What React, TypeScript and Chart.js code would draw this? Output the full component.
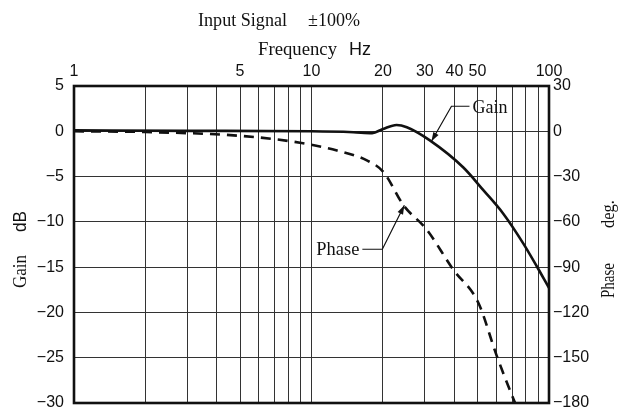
import React, { useEffect, useRef } from "react";
import { Chart, registerables } from "chart.js";
Chart.register(...registerables);

// ---- data ----
const freqGrid = [1, 2, 3, 4, 5, 6, 7, 8, 9, 10, 20, 30, 40, 50, 60, 70, 80, 90, 100];
const freqLabels = [1, 5, 10, 20, 30, 40, 50, 100];

const gainFreq = [1, 3, 10, 15, 18, 20, 22.8, 25.2, 31.5, 43.6, 52.9, 64.2, 78, 88.8, 100];
const gainDb = [0.1, 0.05, 0, -0.1, -0.2, 0.25, 0.7, 0.45, -1.0, -4.0, -6.5, -9.1, -12.4, -14.9, -17.3];

const phaseFreq = [1, 2, 5, 8.95, 12.8, 17.1, 20.1, 24.4, 30.5, 39.5, 50.4, 60.2, 70.7, 72];
const phaseDeg = [0, -0.5, -3, -7.6, -12.7, -19.3, -27, -49, -65, -91.6, -113.6, -148.6, -177, -180];

const gainAnnot = { f: 32, v: -1.1, label: "Gain" };
const phaseAnnot = { f: 24.6, v: -49, label: "Phase" };

const fmt = (v: number) => (v < 0 ? "\u2212" + Math.abs(v) : String(v));

const SERIF = '19px "Liberation Serif"';
const SANS = '18px "Liberation Sans"';

function drawArrow(ctx: CanvasRenderingContext2D, pts: number[][]) {
  ctx.beginPath();
  ctx.moveTo(pts[0][0], pts[0][1]);
  for (let i = 1; i < pts.length; i++) ctx.lineTo(pts[i][0], pts[i][1]);
  ctx.stroke();
  const [x1, y1] = pts[pts.length - 2];
  const [x2, y2] = pts[pts.length - 1];
  const ang = Math.atan2(y2 - y1, x2 - x1);
  const L = 9, W = 3;
  ctx.beginPath();
  ctx.moveTo(x2, y2);
  ctx.lineTo(x2 - L * Math.cos(ang) + W * Math.sin(ang), y2 - L * Math.sin(ang) - W * Math.cos(ang));
  ctx.lineTo(x2 - L * Math.cos(ang) - W * Math.sin(ang), y2 - L * Math.sin(ang) + W * Math.cos(ang));
  ctx.closePath();
  ctx.fill();
}

const overlay = {
  id: "overlay",
  afterDraw(chart: any) {
    const { ctx, chartArea: a, scales } = chart;
    ctx.save();
    ctx.strokeStyle = "#111";
    ctx.fillStyle = "#111";
    ctx.lineWidth = 2.6;
    ctx.strokeRect(a.left, a.top, a.right - a.left, a.bottom - a.top);

    // titles
    ctx.textBaseline = "alphabetic";
    ctx.textAlign = "left";
    ctx.font = SERIF;
    ctx.fillText("Input Signal", 198, 25.5, 89);
    ctx.fillText("\u00b1100%", 308, 25.5, 52);
    ctx.fillText("Frequency", 258, 55, 79);
    ctx.font = SANS;
    ctx.fillText("Hz", 349, 55, 25);

    // left axis title
    ctx.save();
    ctx.translate(26, 0);
    ctx.rotate(-Math.PI / 2);
    ctx.font = SERIF;
    ctx.fillText("Gain", -288, 0, 33);
    ctx.font = SANS;
    ctx.fillText("dB", -232, 0, 21);
    ctx.restore();

    // right axis title
    ctx.save();
    ctx.translate(614, 0);
    ctx.rotate(-Math.PI / 2);
    ctx.font = SERIF;
    ctx.fillText("Phase", -298, 0, 35);
    ctx.fillText("deg.", -228, 0, 28);
    ctx.restore();

    // annotations
    ctx.lineWidth = 1.2;
    const gx = scales.x.getPixelForValue(gainAnnot.f);
    const gy = scales.y.getPixelForValue(gainAnnot.v);
    drawArrow(ctx, [[gx + 38, gy - 35], [gx + 20, gy - 35], [gx, gy]]);
    ctx.font = SERIF;
    ctx.textAlign = "left";
    ctx.fillText(gainAnnot.label, gx + 41, gy - 28, 35);

    const px = scales.x.getPixelForValue(phaseAnnot.f);
    const py = scales.y2.getPixelForValue(phaseAnnot.v);
    drawArrow(ctx, [[px - 42, py + 44], [px - 22, py + 44], [px, py]]);
    ctx.textAlign = "right";
    ctx.fillText(phaseAnnot.label, px - 45, py + 50, 43);
    ctx.restore();
  },
};

export default function App() {
  const ref = useRef<HTMLCanvasElement>(null);
  useEffect(() => {
    document.body.style.margin = "0";
    const tickFont = { family: '"Liberation Sans"', size: 16 };
    const noPad = (w: number) => (s: any) => {
      s.width = w;
      s.paddingTop = 0;
      s.paddingBottom = 0;
    };
    const chart = new Chart(ref.current!, {
      type: "line",
      data: {
        datasets: [
          {
            label: "Gain",
            data: gainFreq.map((f, i) => ({ x: f, y: gainDb[i] })),
            yAxisID: "y",
            borderColor: "#111",
            borderWidth: 2.6,
            pointRadius: 0,
            cubicInterpolationMode: "monotone",
            fill: false,
          },
          {
            label: "Phase",
            data: phaseFreq.map((f, i) => ({ x: f, y: phaseDeg[i] })),
            yAxisID: "y2",
            borderColor: "#111",
            borderWidth: 2.6,
            borderDash: [10, 7],
            pointRadius: 0,
            cubicInterpolationMode: "monotone",
            fill: false,
          },
        ],
      },
      options: {
        responsive: false,
        animation: false,
        layout: { padding: { top: 0, bottom: 6, left: 0, right: 0 }, autoPadding: false },
        plugins: { legend: { display: false }, tooltip: { enabled: false } },
        scales: {
          x: {
            type: "logarithmic",
            position: "top",
            min: 1,
            max: 100,
            afterBuildTicks: (s: any) => {
              s.ticks = freqGrid.map((v) => ({ value: v }));
            },
            afterFit: (s: any) => {
              s.height = 86;
            },
            grid: { color: "#333", lineWidth: 1, drawTicks: false },
            border: { display: false },
            ticks: {
              autoSkip: false,
              maxRotation: 0,
              padding: 5,
              color: "#111",
              font: tickFont,
              callback: (v: any) => (freqLabels.includes(Number(v)) ? String(v) : ""),
            },
          },
          y: {
            type: "linear",
            position: "left",
            min: -30,
            max: 5,
            afterFit: noPad(74),
            grid: { color: "#333", lineWidth: 1, drawTicks: false },
            border: { display: false },
            ticks: { stepSize: 5, padding: 10, color: "#111", font: tickFont, callback: (v: any) => fmt(Number(v)) },
          },
          y2: {
            type: "linear",
            position: "right",
            min: -180,
            max: 30,
            afterFit: noPad(69),
            grid: { display: false, drawTicks: false },
            border: { display: false },
            ticks: { stepSize: 30, padding: 4, color: "#111", font: tickFont, callback: (v: any) => fmt(Number(v)) },
          },
        },
      },
      plugins: [overlay],
    } as any);
    return () => chart.destroy();
  }, []);
  return <canvas ref={ref} width={618} height={409} style={{ display: "block" }} />;
}
